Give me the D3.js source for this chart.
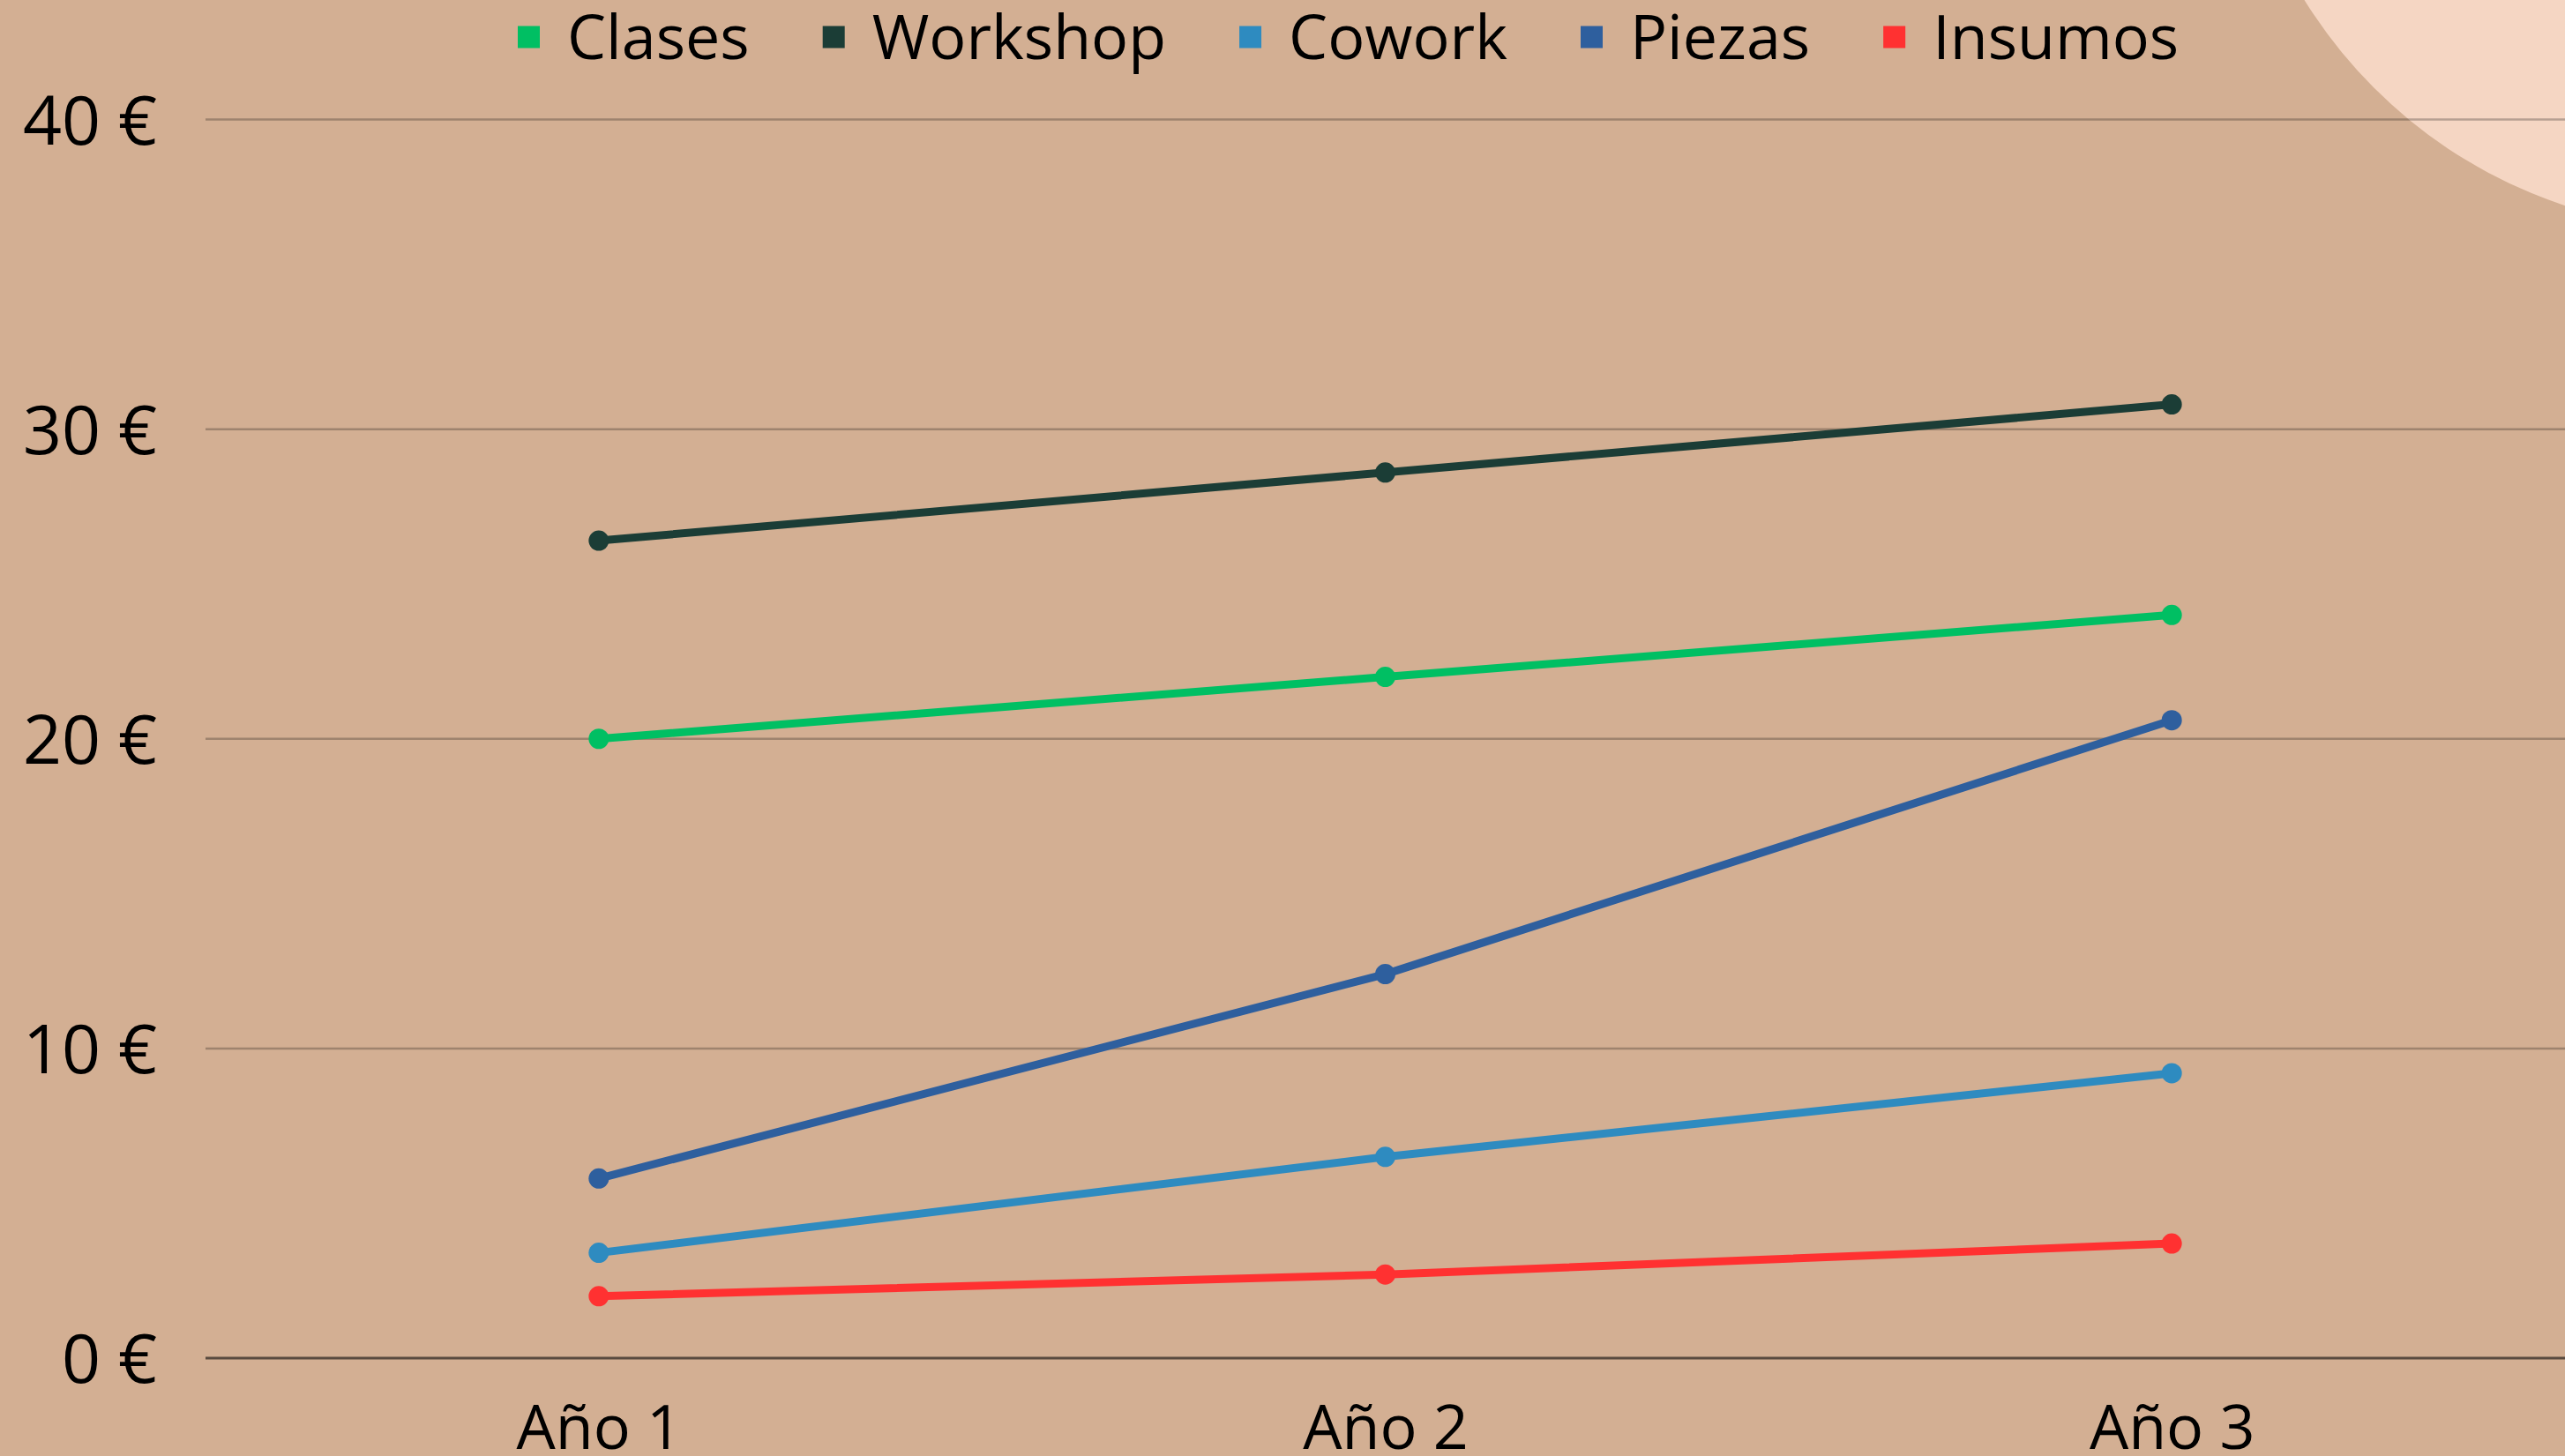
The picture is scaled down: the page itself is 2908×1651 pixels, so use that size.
<!DOCTYPE html>
<html>
<head>
<meta charset="utf-8">
<script src="https://cdn.jsdelivr.net/npm/d3@7"></script>
<style>
  html, body { margin: 0; padding: 0; background: #d3af93; overflow: hidden; }
  svg { display: block; }
  text { font-family: "Open Sans", "Lato", sans-serif; fill: #000; }
</style>
</head>
<body>
<svg id="chart" width="2908" height="1651"></svg>
<script>
// ---- data ----
const categories = ["Año 1", "Año 2", "Año 3"];
const seriesNames = ["Clases", "Workshop", "Cowork", "Piezas", "Insumos"];
const clases   = [20.0, 22.0, 24.0];
const workshop = [26.4, 28.6, 30.8];
const cowork   = [3.4, 6.5, 9.2];
const piezas   = [5.8, 12.4, 20.6];
const insumos  = [2.0, 2.7, 3.7];
const yTicks = [0, 10, 20, 30, 40];
const tickLabels = ["0 €", "10 €", "20 €", "30 €", "40 €"];
const colors = ["#00bf63", "#1b3d36", "#2e8bc0", "#2e5f9e", "#ff3131"];

const seriesValues = [clases, workshop, cowork, piezas, insumos];
const series = seriesNames.map((name, i) => ({ name, color: colors[i], values: seriesValues[i] }));

// ---- layout ----
const W = 2908, H = 1651;
const plotLeft = 233, plotRight = 2908;
const yTop = 135.5, yBottom = 1540;
const fontSize = 70;
const yFontSize = 77;
const fontFamily = "'Open Sans', Lato, sans-serif";

const svg = d3.select("#chart");
svg.append("rect").attr("width", W).attr("height", H).attr("fill", "#d3af93");

// decorative circle top-right
svg.append("circle").attr("cx", 3081).attr("cy", -290).attr("r", 551).attr("fill", "#f5d6c3");

const x = d3.scalePoint().domain(categories).range([plotLeft, plotRight]).padding(0.5);
const y = d3.scaleLinear().domain([0, 40]).range([yBottom, yTop]);

// gridlines
const grid = svg.append("g");
grid.selectAll("line").data(yTicks).join("line")
  .attr("x1", plotLeft).attr("x2", plotRight)
  .attr("y1", d => y(d)).attr("y2", d => y(d))
  .attr("stroke", d => d === 0 ? "#594a3f" : "#000")
  .attr("stroke-opacity", d => d === 0 ? 1 : 0.25)
  .attr("stroke-width", d => d === 0 ? 3 : 2.5);

// y axis labels
const yAxis = d3.axisLeft(y).tickValues(yTicks).tickFormat((d, i) => tickLabels[i]).tickSize(0).tickPadding(0);
const yg = svg.append("g").attr("transform", "translate(178,0)").call(yAxis);
yg.select(".domain").remove();
yg.selectAll("text").attr("font-size", yFontSize).attr("font-family", fontFamily)
  .attr("fill", "#000").attr("dy", "0.36em").attr("x", 0);

// x axis labels
const xAxis = d3.axisBottom(x).tickSize(0).tickPadding(0);
const xg = svg.append("g").attr("transform", "translate(0,1643)").call(xAxis);
xg.select(".domain").remove();
xg.selectAll("text").attr("font-size", fontSize).attr("font-family", fontFamily)
  .attr("fill", "#000").attr("dy", "0").attr("y", 0);

// lines
const line = d3.line().x((d, i) => x(categories[i])).y(d => y(d));
const lg = svg.append("g");
series.forEach(s => {
  lg.append("path").datum(s.values).attr("d", line)
    .attr("fill", "none").attr("stroke", s.color).attr("stroke-width", 9)
    .attr("stroke-linejoin", "round").attr("stroke-linecap", "round");
  lg.selectAll(null).data(s.values).join("circle")
    .attr("cx", (d, i) => x(categories[i])).attr("cy", d => y(d))
    .attr("r", 11.5).attr("fill", s.color);
});

// legend
const leg = svg.append("g");
let lx = 587;
const sq = 25, legY = 42;
series.forEach(s => {
  leg.append("rect").attr("x", lx).attr("y", legY - sq / 2).attr("width", sq).attr("height", sq).attr("fill", s.color);
  const t = leg.append("text").attr("x", lx + sq + 31).attr("y", 67)
    .attr("font-size", fontSize).attr("font-family", fontFamily).text(s.name);
  const w = t.node().getComputedTextLength();
  lx = lx + sq + 31 + w + 83;
});
</script>
</body>
</html>
